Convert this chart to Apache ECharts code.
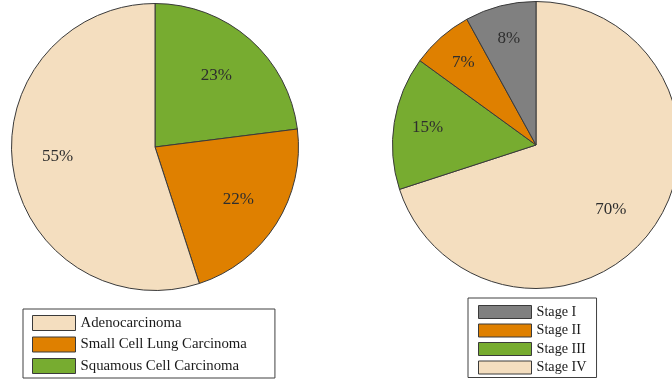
<!DOCTYPE html>
<html>
<head>
<meta charset="utf-8">
<script src="https://cdn.jsdelivr.net/npm/echarts@6/dist/echarts.min.js"></script>
<style>
  html, body { margin: 0; padding: 0; background: #fff; }
  #chart { width: 672px; height: 385px; }
</style>
</head>
<body>
<div id="chart"></div>
<script>
// Histological types (clockwise from 12 o'clock)
const typeNames = ['Squamous Cell Carcinoma', 'Small Cell Lung Carcinoma', 'Adenocarcinoma'];
const typeValues = [23, 22, 55];
const typeColors = ['#77AC30', '#DF8000', '#F4DEBF'];
const typeLegend = ['Adenocarcinoma', 'Small Cell Lung Carcinoma', 'Squamous Cell Carcinoma'];

// Disease stages (clockwise from 12 o'clock)
const stageNames = ['Stage IV', 'Stage III', 'Stage II', 'Stage I'];
const stageValues = [70, 15, 7, 8];
const stageColors = ['#F4DEBF', '#77AC30', '#DF8000', '#808080'];
const stageLegend = ['Stage I', 'Stage II', 'Stage III', 'Stage IV'];

const FONT = '"Liberation Serif", "Times New Roman", serif';

// Small label nudges for the large slices, whose labels sit a little closer in
const labelNudge = {
  'Adenocarcinoma': [0, -6],
  'Squamous Cell Carcinoma': [-4, 3],
  'Stage IV': [-14, 0]
};

function toData(names, values, colors) {
  return names.map((n, i) => ({ name: n, value: values[i], itemStyle: { color: colors[i] } }));
}

// Filled slices
function slices(center, names, values, colors) {
  return {
    type: 'pie',
    center: center,
    radius: [0, 143.5],
    startAngle: 90,
    clockwise: true,
    animation: false,
    label: { show: false },
    labelLine: { show: false },
    itemStyle: { borderColor: '#3a3a3a', borderWidth: 1 },
    emphasis: { disabled: true },
    data: toData(names, values, colors)
  };
}

// Transparent ring carrying the percentage labels further out than the mid radius
function labels(center, inner, names, values) {
  return {
    type: 'pie',
    center: center,
    radius: [inner, 143.5],
    startAngle: 90,
    clockwise: true,
    silent: true,
    animation: false,
    legendHoverLink: false,
    itemStyle: { color: 'rgba(0,0,0,0)', borderWidth: 0 },
    label: {
      show: true,
      position: 'inside',
      formatter: p => p.value + '%',
      fontFamily: FONT,
      fontSize: 17,
      color: '#2e2e2e'
    },
    labelLine: { show: false },
    emphasis: { disabled: true },
    data: names.map((n, i) => ({
      name: n,
      value: values[i],
      label: labelNudge[n] ? { offset: labelNudge[n] } : undefined
    }))
  };
}

function legend(left, top, names, itemW, itemH, gap, padding, fontSize) {
  return {
    orient: 'vertical',
    left: left,
    top: top,
    data: names,
    icon: 'rect',
    itemWidth: itemW,
    itemHeight: itemH,
    itemGap: gap,
    padding: padding,
    borderColor: '#404040',
    borderWidth: 1,
    selectedMode: false,
    itemStyle: { borderColor: '#3a3a3a', borderWidth: 1 },
    textStyle: { fontFamily: FONT, fontSize: fontSize, lineHeight: itemH, color: '#1a1a1a' }
  };
}

const chart = echarts.init(document.getElementById('chart'), null, { renderer: 'canvas' });
chart.setOption({
  backgroundColor: '#ffffff',
  legend: [
    legend(23, 309, typeLegend, 43, 15, 5.5, [6, 28, 4, 9], 14.8),
    legend(468, 298, stageLegend, 53, 13, 4.5, [7, 10, 3, 10], 14.2)
  ],
  series: [
    slices([155, 147], typeNames, typeValues, typeColors),
    slices([536, 145], stageNames, stageValues, stageColors),
    labels([155, 147], 48, typeNames, typeValues),
    labels([536, 145], 70, stageNames, stageValues)
  ]
});
</script>
</body>
</html>
